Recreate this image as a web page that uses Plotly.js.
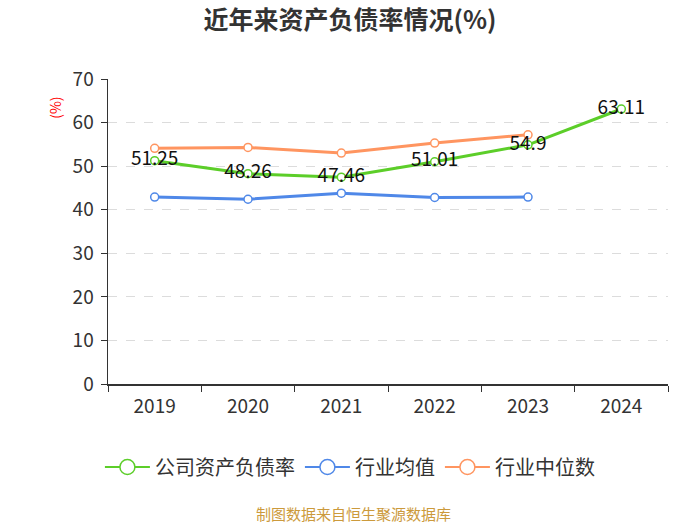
<!DOCTYPE html>
<html><head><meta charset="utf-8">
<script src="https://cdn.plot.ly/plotly-3.0.1.min.js"></script>
<style>body{margin:0}#c{width:700px;height:525px}</style>
</head><body><div id="c"></div>
<script>
const years = ['2019','2020','2021','2022','2023','2024'];
const company = [51.25, 48.26, 47.46, 51.01, 54.9, 63.11];
const industryAvg = [42.9, 42.4, 43.8, 42.8, 42.9, null];
const industryMedian = [54.1, 54.3, 53.0, 55.3, 57.2, null];
const yTicks = [0,10,20,30,40,50,60,70];

const font = 'Noto Sans CJK SC, Noto Sans, sans-serif';
const colors = {company: '#5cce29', avg: '#4f88e8', median: '#ff9560'};

function series(y, color, withText){
  const t = {
    x: years, y: y, type: 'scatter', showlegend: false,
    mode: withText ? 'lines+markers+text' : 'lines+markers',
    line: {color: color, width: 3},
    marker: {symbol: 'circle', size: 8, color: '#ffffff', line: {color: color, width: 1.5}},
    cliponaxis: false
  };
  if (withText){
    t.text = y.map(v => String(v));
    t.textposition = 'middle center';
    t.textfont = {family: font, size: 19, color: '#111'};
  }
  return t;
}
function legendItem(name, color){
  return {x: [null], y: [null], name: name, type: 'scatter', mode: 'lines+markers',
          line: {color: color, width: 2},
          marker: {symbol: 'circle', size: 15, color: '#ffffff', line: {color: color, width: 1.5}}};
}
const data = [
  series(industryAvg, colors.avg, false),
  series(industryMedian, colors.median, false),
  series(company, colors.company, true),
  legendItem('公司资产负债率', colors.company),
  legendItem('行业均值', colors.avg),
  legendItem('行业中位数', colors.median)
];

const layout = {
  width: 700, height: 525,
  margin: {l: 108, r: 32, t: 79, b: 141},
  paper_bgcolor: '#fff', plot_bgcolor: '#fff',
  title: {text: '近年来资产负债率情况(%)', x: 0.5, xanchor: 'center', y: 0.962, yanchor: 'middle',
          font: {family: font, size: 25, color: '#333', weight: 'bold'}},
  showlegend: true,
  legend: {orientation: 'h', x: 0.432, xanchor: 'center', y: -0.272, yanchor: 'middle',
           font: {family: font, size: 20, color: '#333'}, traceorder: 'normal', itemwidth: 45},
  xaxis: {type: 'category', range: [-0.5, 5.5], showgrid: false, showline: true, linecolor: '#333', linewidth: 1.5,
          ticks: 'outside', ticklen: 6, tickcolor: '#333', tickson: 'boundaries', ticklabelstandoff: 5,
          tickfont: {family: font, size: 19, color: '#333'}, fixedrange: true, zeroline: false},
  yaxis: {range: [0, 70], tickvals: yTicks, showline: true, linecolor: '#333', linewidth: 1.5,
          ticks: 'outside', ticklen: 6, tickcolor: '#333', ticklabelstandoff: 3,
          showgrid: true, gridcolor: '#dcdcdc', griddash: 'dash', gridwidth: 1, zeroline: false,
          tickfont: {family: font, size: 19, color: '#333'}},
  annotations: [
    {text: '(%)', xref: 'paper', yref: 'paper', x: -0.095, y: 0.905, textangle: -90, showarrow: false,
     xanchor: 'center', yanchor: 'middle', font: {family: font, size: 14, color: '#ff0000'}},
    {text: '制图数据来自恒生聚源数据库', xref: 'paper', yref: 'paper', x: 0.4375, y: -0.425, showarrow: false,
     xanchor: 'center', yanchor: 'middle', font: {family: font, size: 15, color: '#cc9a3c'}}
  ]
};
Plotly.newPlot('c', data, layout, {displayModeBar: false, staticPlot: true});
</script></body></html>
